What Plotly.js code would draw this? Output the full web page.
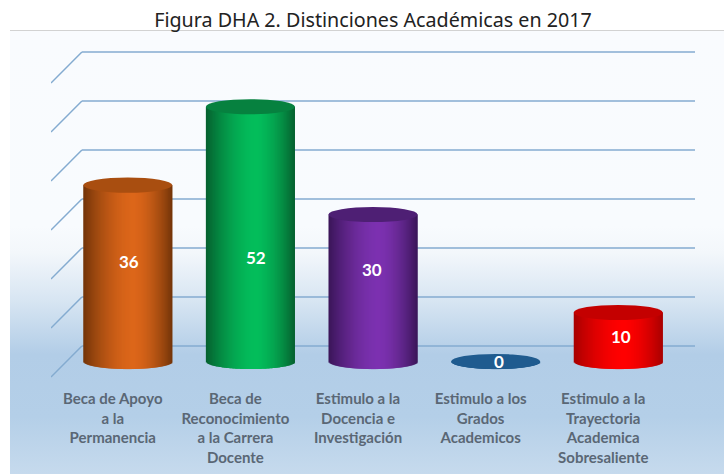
<!DOCTYPE html>
<html><head><meta charset="utf-8">
<script src="https://cdn.plot.ly/plotly-3.0.1.min.js"></script>
<style>
html,body{margin:0;padding:0;background:#fff;width:724px;height:474px;overflow:hidden}
#bg{position:absolute;left:10px;top:30px;width:714px;height:444px;border-top:1px solid #d2d2d2;box-sizing:border-box;
background:linear-gradient(180deg,#f9fbfe 0%,#f8fbfe 44%,#f3f7fb 50%,#d7e5f2 61%,#b2cde7 73%,#b4cfe8 87%,#c6daed 100%)}
#chart{position:absolute;left:0;top:0;width:724px;height:474px}
</style></head><body>
<div id="bg"></div><div id="chart"></div>
<script>
const chartTitle = "Figura DHA 2. Distinciones Académicas en 2017";
const categories = ["Beca de Apoyo<br>a la<br>Permanencia","Beca de<br>Reconocimiento<br>a la Carrera<br>Docente","Estimulo a la<br>Docencia e<br>Investigación","Estimulo a los<br>Grados<br>Academicos","Estimulo a la<br>Trayectoria<br>Academica<br>Sobresaliente"];
const values = [36,52,30,0,10];
const gridValues = [0,10,20,30,40,50,60];
const sideLight = ["#dc661a","#04bd5b","#7c31b0","#1f5b8f","#ff0000"];
const sideDark  = ["#733509","#06602f","#3a1658","#1f5b8f","#a80000"];
const capColors = ["#a94e10","#06813f","#4e1f74","#1f5b8f","#c40000"];

const barWidth = 0.726, capDepth = 1.55, strips = 89, highlight = 0.12;
const backDy = 3.16, backDx = 0.126;

function mix(a,b,k){const p=c=>[1,3,5].map(i=>parseInt(c.substr(i,2),16));const A=p(a),B=p(b);
  return "rgb("+A.map((v,i)=>Math.round(v+(B[i]-v)*k)).join(",")+")";}

const traces=[];
const stripW=barWidth/strips;
for(let s=0;s<strips;s++){
  const t=(s+0.5)/strips*2-1;
  const drop=capDepth*Math.sqrt(1-t*t);
  const d=Math.abs(t-highlight)/(t>highlight?1-highlight:1+highlight);
  const k=Math.pow(d,1.7);
  traces.push({type:"bar",x:categories,y:values.map(v=>v+drop),base:values.map(()=>-drop),
    width:s<strips-1?stripW*2:stripW,offset:-barWidth/2+s*stripW,
    marker:{color:values.map((v,i)=>mix(sideLight[i],sideDark[i],k)),line:{width:0}},
    hoverinfo:"skip",showlegend:false});
}

const shapes=[];
gridValues.forEach(g=>{
  const line={color:"#84abd0",width:1.5};
  shapes.push({type:"line",layer:"below",xref:"x",yref:"y",x0:-0.5+backDx,x1:4.5+backDx,y0:g+backDy,y1:g+backDy,line});
  shapes.push({type:"line",layer:"below",xref:"x",yref:"y",x0:-0.5+backDx,x1:-0.5-backDx,y0:g+backDy,y1:g-backDy,line});
});
values.forEach((v,i)=>{
  shapes.push({type:"circle",layer:"above",xref:"x",yref:"y",x0:i-barWidth/2,x1:i+barWidth/2,y0:v-capDepth,y1:v+capDepth,
    fillcolor:capColors[i],line:{width:0}});
});

const labelLift=[20.5,21.3,18.8,0,5.1], labelShift=[1,6,-1,3,3];
const annotations=values.map((v,i)=>({x:i,y:labelLift[i],xref:"x",yref:"y",text:"<b>"+v+"</b>",showarrow:false,xshift:labelShift[i],
  font:{family:"Lato, sans-serif",size:17,color:"#ffffff"}}));

const layout={width:724,height:474,margin:{l:51,r:29,t:45,b:96},
  paper_bgcolor:"rgba(0,0,0,0)",plot_bgcolor:"rgba(0,0,0,0)",barmode:"overlay",showlegend:false,
  title:{text:chartTitle,x:373/724,xanchor:"center",y:1-20/474,yanchor:"middle",font:{family:"'Noto Sans', sans-serif",size:19.7,color:"#222222"}},
  xaxis:{type:"category",categoryorder:"array",categoryarray:categories,range:[-0.626,4.626],showgrid:false,zeroline:false,showline:false,ticks:"",
    ticklabelshift:-15,ticklabelstandoff:10,tickangle:0,tickfont:{family:"Lato, sans-serif",size:15,color:"#5a6775",weight:700}},
  yaxis:{range:[-3.37,64.6],visible:false,showgrid:false,zeroline:false},
  shapes,annotations};
Plotly.newPlot("chart",traces,layout,{displayModeBar:false,staticPlot:true});
</script>
</body></html>
